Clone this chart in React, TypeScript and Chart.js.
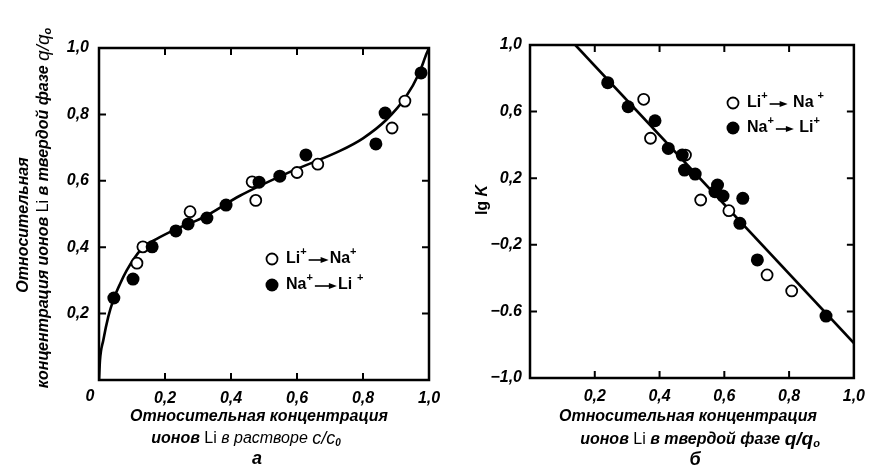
import { useEffect, useRef } from 'react';
import { Chart, registerables } from 'chart.js';

Chart.register(...registerables);

// ---- Panel "а": Li in the solid phase (q/q0) vs Li in solution (c/c0) ----
const isoLiNaX = [0.115, 0.133, 0.276, 0.464, 0.475, 0.6, 0.663, 0.888, 0.927];
const isoLiNaY = [0.352, 0.401, 0.507, 0.597, 0.541, 0.625, 0.65, 0.759, 0.84];

const isoNaLiX = [0.045, 0.103, 0.161, 0.233, 0.27, 0.327, 0.385, 0.485, 0.548, 0.627, 0.839, 0.867, 0.976];
const isoNaLiY = [0.247, 0.304, 0.401, 0.449, 0.47, 0.488, 0.527, 0.596, 0.614, 0.678, 0.711, 0.804, 0.925];

const isoCurveX = [0, 0.003, 0.013, 0.028, 0.043, 0.064, 0.084, 0.109, 0.134, 0.175, 0.235, 0.316, 0.427, 0.579, 0.73, 0.8, 0.87, 0.93, 0.97, 0.993, 1.0];
const isoCurveY = [0, 0.06, 0.12, 0.19, 0.24, 0.29, 0.33, 0.37, 0.4, 0.425, 0.455, 0.49, 0.555, 0.627, 0.69, 0.728, 0.783, 0.853, 0.924, 0.984, 1.0];

const isoXTicks = [0, 0.2, 0.4, 0.6, 0.8, 1.0];
const isoYTicks = [0.2, 0.4, 0.6, 0.8, 1.0];

// ---- Panel "б": lg K vs Li in the solid phase (q/q0) ----
const lgkLiNaQ = [0.351, 0.372, 0.48, 0.527, 0.614, 0.732, 0.808];
const lgkLiNaK = [0.674, 0.44, 0.339, 0.069, 0.005, -0.381, -0.477];

const lgkNaLiQ = [0.24, 0.303, 0.386, 0.427, 0.47, 0.477, 0.51, 0.579, 0.571, 0.596, 0.657, 0.648, 0.702, 0.914];
const lgkNaLiK = [0.774, 0.629, 0.545, 0.379, 0.339, 0.249, 0.225, 0.159, 0.119, 0.093, 0.079, -0.071, -0.291, -0.628];

const lgkFitQ = [0.14, 1.0];
const lgkFitK = [1.0, -0.79];

const lgkXTicks = [0.2, 0.4, 0.6, 0.8, 1.0];
const lgkYTicks = [-1.0, -0.6, -0.2, 0.2, 0.6, 1.0];

const FAM = '"Liberation Sans", Arial, sans-serif';
const TICK_FONT = { family: FAM, size: 16, style: 'italic' as const, weight: 'bold' as const };
const BI = (s: number) => `italic bold ${s}px ${FAM}`;
const RG = (s: number) => `${s}px ${FAM}`;
const IT = (s: number) => `italic ${s}px ${FAM}`;

const W = 874;
const H = 468;

type Run = { t?: string; font?: string; dy?: number; arrow?: number; gap?: number };

function runsWidth(ctx: CanvasRenderingContext2D, runs: Run[]) {
  let w = 0;
  for (const r of runs) {
    if (r.arrow) w += r.arrow;
    else {
      ctx.font = r.font || RG(16);
      w += ctx.measureText(r.t || '').width;
    }
    w += r.gap || 0;
  }
  return w;
}

function drawRuns(ctx: CanvasRenderingContext2D, runs: Run[], cx: number, cy: number, rot = 0, align: 'center' | 'left' = 'center') {
  ctx.save();
  ctx.translate(cx, cy);
  if (rot) ctx.rotate(rot);
  const w = runsWidth(ctx, runs);
  let x = align === 'center' ? -w / 2 : 0;
  ctx.textBaseline = 'middle';
  ctx.textAlign = 'left';
  ctx.fillStyle = '#000';
  ctx.strokeStyle = '#000';
  for (const r of runs) {
    if (r.arrow) {
      const y = 1;
      ctx.lineWidth = 1.6;
      ctx.beginPath();
      ctx.moveTo(x + 1, y);
      ctx.lineTo(x + r.arrow - 6, y);
      ctx.stroke();
      ctx.beginPath();
      ctx.moveTo(x + r.arrow - 1, y);
      ctx.lineTo(x + r.arrow - 9, y - 3);
      ctx.lineTo(x + r.arrow - 9, y + 3);
      ctx.closePath();
      ctx.fill();
      x += r.arrow;
    } else {
      ctx.font = r.font || RG(16);
      ctx.fillText(r.t || '', x, r.dy || 0);
      x += ctx.measureText(r.t || '').width;
    }
    x += r.gap || 0;
  }
  ctx.restore();
}

function fmtTick(v: number) {
  const s = Math.abs(v).toFixed(1);
  // the −0.6 label on panel б is printed with a point
  if (Math.abs(v + 0.6) < 1e-6) return '−0.6';
  return (v < 0 ? '−' : '') + s.replace('.', ',');
}

function zip(xs: number[], ys: number[]) {
  return xs.map((x, i) => ({ x, y: ys[i] }));
}

// Frame on all four sides with inward tick marks at the given values
function frameTicks(xVals: number[], yVals: number[]) {
  return {
    id: 'frameTicks',
    afterDatasetsDraw(chart: Chart) {
      const { ctx, chartArea: a } = chart;
      const xs = chart.scales.x;
      const ys = chart.scales.y;
      ctx.save();
      ctx.strokeStyle = '#000';
      ctx.lineWidth = 2.5;
      ctx.strokeRect(a.left, a.top, a.right - a.left, a.bottom - a.top);
      ctx.lineWidth = 2;
      const tl = 7;
      ctx.beginPath();
      for (const v of xVals) {
        const px = xs.getPixelForValue(v);
        ctx.moveTo(px, a.bottom);
        ctx.lineTo(px, a.bottom - tl);
        ctx.moveTo(px, a.top);
        ctx.lineTo(px, a.top + tl);
      }
      for (const v of yVals) {
        const py = ys.getPixelForValue(v);
        ctx.moveTo(a.left, py);
        ctx.lineTo(a.left + tl, py);
        ctx.moveTo(a.right, py);
        ctx.lineTo(a.right - tl, py);
      }
      ctx.stroke();
      ctx.restore();
    },
  };
}

function legendPlugin(items: { open: boolean; x: number; y: number; runs: Run[] }[]) {
  return {
    id: 'ionLegend',
    afterDraw(chart: Chart) {
      const ctx = chart.ctx;
      ctx.save();
      for (const it of items) {
        ctx.beginPath();
        ctx.arc(it.x, it.y, it.open ? 5.5 : 6.5, 0, Math.PI * 2);
        if (it.open) {
          ctx.fillStyle = '#fff';
          ctx.fill();
          ctx.lineWidth = 1.8;
          ctx.strokeStyle = '#000';
          ctx.stroke();
        } else {
          ctx.fillStyle = '#000';
          ctx.fill();
        }
        drawRuns(ctx, it.runs, it.x + 14, it.y, 0, 'left');
      }
      ctx.restore();
    },
  };
}

function textPlugin(draw: (ctx: CanvasRenderingContext2D) => void) {
  return {
    id: 'titles',
    afterDraw(chart: Chart) {
      chart.ctx.save();
      draw(chart.ctx);
      chart.ctx.restore();
    },
  };
}

const sup = (t: string): Run => ({ t, font: `bold 11px ${FAM}`, dy: -7 });

function openSet(label: string, data: { x: number; y: number }[]) {
  return {
    label,
    data,
    showLine: false,
    pointRadius: 5.5,
    pointBorderWidth: 1.8,
    pointBackgroundColor: '#fff',
    pointBorderColor: '#000',
    order: 2,
  };
}

function filledSet(label: string, data: { x: number; y: number }[]) {
  return {
    label,
    data,
    showLine: false,
    pointRadius: 6.5,
    pointBorderWidth: 0,
    pointBackgroundColor: '#000',
    pointBorderColor: '#000',
    order: 1,
  };
}

function baseScale(min: number, max: number, step: number, hideZero: boolean, padding: number) {
  return {
    type: 'linear' as const,
    min,
    max,
    grid: { display: false, drawTicks: false },
    border: { display: false },
    ticks: {
      stepSize: step,
      padding,
      color: '#000',
      font: TICK_FONT,
      autoSkip: false,
      maxRotation: 0,
      callback: (v: number | string) => {
        const n = Number(v);
        if (hideZero && Math.abs(n) < 1e-9) return '';
        return fmtTick(n);
      },
    },
  };
}

export default function App() {
  const leftRef = useRef<HTMLCanvasElement>(null);
  const rightRef = useRef<HTMLCanvasElement>(null);

  useEffect(() => {
    const left = new Chart(leftRef.current!, {
      type: 'scatter',
      data: {
        datasets: [
          {
            label: 'isotherm',
            data: zip(isoCurveX, isoCurveY),
            showLine: true,
            pointRadius: 0,
            borderColor: '#000',
            borderWidth: 2.6,
            cubicInterpolationMode: 'monotone',
            order: 3,
          } as any,
          openSet('Li+ → Na+', zip(isoLiNaX, isoLiNaY)),
          filledSet('Na+ → Li+', zip(isoNaLiX, isoNaLiY)),
        ],
      },
      options: {
        responsive: false,
        animation: false,
        devicePixelRatio: 1,
        events: [],
        layout: { padding: { left: 0, top: 48, right: W - 429, bottom: 0 } },
        plugins: { legend: { display: false }, tooltip: { enabled: false } },
        scales: {
          x: { ...baseScale(0, 1, 0.2, true, 9), afterFit: (s: any) => { s.height = H - 380; } },
          y: { ...baseScale(0, 1, 0.2, true, 10), afterFit: (s: any) => { s.width = 99; } },
        } as any,
      },
      plugins: [
        frameTicks(isoXTicks.slice(1, 5), isoYTicks.slice(0, 4)),
        legendPlugin([
          { open: true, x: 272, y: 259, runs: [{ t: 'Li', font: `bold 16px ${FAM}` }, { ...sup('+'), gap: 1 }, { t: '', font: RG(4) }, { arrow: 22 }, { t: 'Na', font: `bold 16px ${FAM}` }, sup('+')] },
          { open: false, x: 272, y: 285, runs: [{ t: 'Na', font: `bold 16px ${FAM}` }, { ...sup('+'), gap: 1 }, { arrow: 24 }, { t: 'Li', font: `bold 16px ${FAM}`, gap: 5 }, sup('+')] },
        ]),
        textPlugin((ctx) => {
          drawRuns(ctx, [{ t: '0', font: BI(16) }], 90, 397);
          drawRuns(ctx, [{ t: 'Относительная концентрация', font: BI(16) }], 259, 417);
          drawRuns(ctx, [
            { t: 'ионов ', font: BI(16) },
            { t: 'Li', font: RG(16) },
            { t: ' в растворе ', font: IT(16) },
            { t: 'c/c', font: IT(18) },
            { t: '0', font: BI(10), dy: 4 },
          ], 246, 439);
          drawRuns(ctx, [{ t: 'а', font: BI(18) }], 257, 459);
          drawRuns(ctx, [{ t: 'Относительная', font: BI(16) }], 24, 225, -Math.PI / 2);
          drawRuns(ctx, [
            { t: 'концентрация ионов ', font: BI(16) },
            { t: 'Li', font: RG(16) },
            { t: ' в твердой фазе ', font: BI(16) },
            { t: 'q/q', font: IT(19) },
            { t: 'o', font: BI(11), dy: 4 },
          ], 44, 208, -Math.PI / 2);
        }),
      ],
    });

    const right = new Chart(rightRef.current!, {
      type: 'scatter',
      data: {
        datasets: [
          {
            label: 'fit',
            data: zip(lgkFitQ, lgkFitK),
            showLine: true,
            pointRadius: 0,
            borderColor: '#000',
            borderWidth: 2.6,
            order: 3,
          } as any,
          openSet('Li+ → Na+', zip(lgkLiNaQ, lgkLiNaK)),
          filledSet('Na+ → Li+', zip(lgkNaLiQ, lgkNaLiK)),
        ],
      },
      options: {
        responsive: false,
        animation: false,
        devicePixelRatio: 1,
        events: [],
        layout: { padding: { left: 470, top: 45, right: W - 860, bottom: 0 } },
        plugins: { legend: { display: false }, tooltip: { enabled: false } },
        scales: {
          x: { ...baseScale(0, 1, 0.2, true, 9), afterFit: (s: any) => { s.height = H - 378; } },
          y: { ...baseScale(-1, 1, 0.4, false, 8), afterFit: (s: any) => { s.width = 60; } },
        } as any,
      },
      plugins: [
        frameTicks(lgkXTicks.slice(0, 4), lgkYTicks.slice(1, 5)),
        legendPlugin([
          { open: true, x: 733, y: 103, runs: [{ t: 'Li', font: `bold 16px ${FAM}` }, { ...sup('+'), gap: 1 }, { arrow: 20 }, { t: ' Na', font: `bold 16px ${FAM}`, gap: 4 }, sup('+')] },
          { open: false, x: 733, y: 128, runs: [{ t: 'Na', font: `bold 16px ${FAM}` }, { ...sup('+'), gap: 1 }, { arrow: 20 }, { t: ' Li', font: `bold 16px ${FAM}` }, sup('+')] },
        ]),
        textPlugin((ctx) => {
          drawRuns(ctx, [{ t: 'Относительная концентрация', font: BI(16) }], 688, 417);
          drawRuns(ctx, [
            { t: 'ионов ', font: BI(16) },
            { t: 'Li', font: RG(16) },
            { t: ' в твердой фазе ', font: BI(16) },
            { t: 'q/q', font: BI(19) },
            { t: 'o', font: BI(11), dy: 4 },
          ], 700, 440);
          drawRuns(ctx, [{ t: 'б', font: BI(18) }], 695, 460);
          drawRuns(ctx, [{ t: 'lg ', font: `bold 16px ${FAM}` }, { t: 'K', font: BI(16) }], 483, 200, -Math.PI / 2);
        }),
      ],
    });

    return () => {
      left.destroy();
      right.destroy();
    };
  }, []);

  return (
    <div style={{ position: 'fixed', left: 0, top: 0, width: W, height: H, background: '#fff', overflow: 'hidden' }}>
      <canvas ref={leftRef} width={W} height={H} style={{ position: 'absolute', left: 0, top: 0, width: W, height: H }} />
      <canvas ref={rightRef} width={W} height={H} style={{ position: 'absolute', left: 0, top: 0, width: W, height: H }} />
    </div>
  );
}
